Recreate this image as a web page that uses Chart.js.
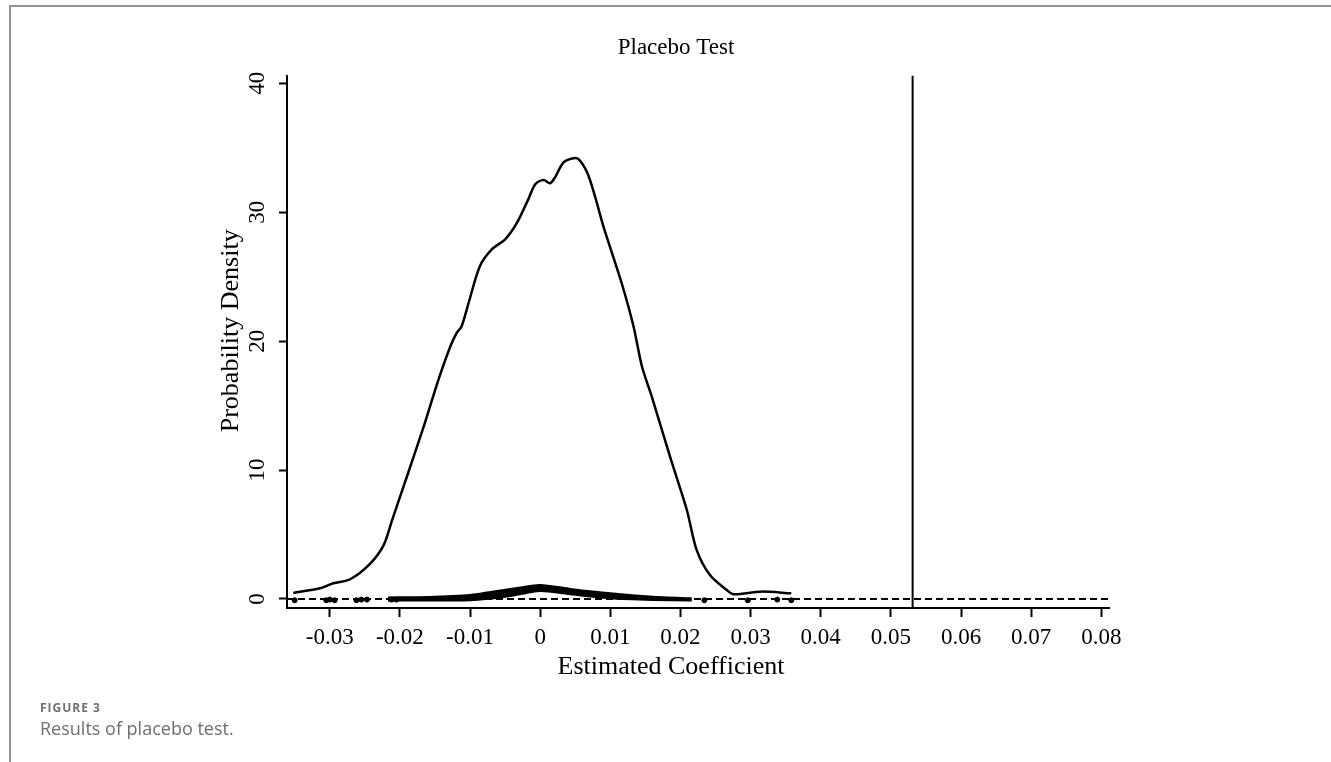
<!DOCTYPE html>
<html>
<head>
<meta charset="utf-8">
<script src="https://cdn.jsdelivr.net/npm/chart.js@4.4.0/dist/chart.umd.min.js"></script>
<style>
  html, body { margin: 0; padding: 0; background: #fff; overflow: hidden; }
  #frame { position: absolute; left: 9px; top: 5px; width: 1340px; height: 780px;
           border-left: 2px solid #949494; border-top: 2px solid #949494; }
  #wrap { position: absolute; left: 0; top: 0; width: 1331px; height: 762px; }
  .fig-label { position: absolute; left: 40px; top: 702px; font: 700 12px 'Open Sans', sans-serif;
               color: #6f6f6f; letter-spacing: 1px; line-height: 12px; }
  .fig-caption { position: absolute; left: 40px; top: 719px; font: 400 18px 'Open Sans', sans-serif;
                 color: #6f6f6f; line-height: 18px; }
</style>
</head>
<body>
<div id="frame"></div>
<div id="wrap"><canvas id="chart"></canvas></div>
<div class="fig-label">FIGURE 3</div>
<div class="fig-caption">Results of placebo test.</div>
<script>
// kernel density of the placebo estimates
const densityX = [-0.0352, -0.0314, -0.0295, -0.0271, -0.0242, -0.0223, -0.0211, -0.0190, -0.0166, -0.0145,
  -0.0128, -0.0119, -0.0112, -0.0102, -0.0086, -0.0069, -0.0050, -0.0033, -0.0017, -0.0007,
  0.0005, 0.0014, 0.0021, 0.0033, 0.0047, 0.0055, 0.0067, 0.0078, 0.0090, 0.0116,
  0.0133, 0.0145, 0.0159, 0.0185, 0.0209, 0.0223, 0.0242, 0.0266, 0.0276, 0.0314, 0.0358];
const densityY = [0.47, 0.83, 1.22, 1.53, 2.77, 4.2, 6.14, 9.5, 13.39, 17.02,
  19.6, 20.64, 21.16, 22.98, 25.82, 27.12, 27.89, 29.19, 31.0, 32.17,
  32.5, 32.25, 32.69, 33.85, 34.19, 34.11, 33.08, 31.26, 28.93, 24.53,
  21.16, 18.05, 15.72, 11.06, 6.92, 3.81, 1.86, 0.7, 0.37, 0.57, 0.44];

// dense cloud of estimate / p-value points near zero
const bandX     = [-0.0217, -0.0160, -0.0100, -0.0052, 0, 0.0043, 0.0100, 0.0161, 0.0216];
const bandUpper = [0.12, 0.15, 0.31, 0.70, 1.09, 0.78, 0.44, 0.18, 0.05];
const bandLower = [-0.12, -0.12, -0.10, 0.15, 0.62, 0.37, 0.05, -0.08, -0.12];

// isolated points
const outlierX = [-0.0350, -0.0305, -0.0300, -0.0293, -0.0262, -0.0255, -0.0247, -0.0212, -0.0205, 0.0234, 0.0296, 0.0338, 0.0358];
const outlierY = [-0.1, -0.1, -0.05, -0.1, -0.1, -0.05, -0.05, -0.05, -0.05, -0.1, -0.1, -0.05, -0.1];

const actualCoef = 0.0531;

const xTicks = [-0.03, -0.02, -0.01, 0, 0.01, 0.02, 0.03, 0.04, 0.05, 0.06, 0.07, 0.08];
const xTickLabels = ['-0.03', '-0.02', '-0.01', '0', '0.01', '0.02', '0.03', '0.04', '0.05', '0.06', '0.07', '0.08'];
const yTicks = [0, 10, 20, 30, 40];
const xRange = [-0.0361, 0.0811];
const yRange = [-0.7, 40.6];

const pts = (xs, ys) => xs.map((x, i) => ({x: x, y: ys[i]}));
const serif = "'Liberation Serif', 'Times New Roman', serif";

// axis titles, drawn like Stata places them (a little off the plot centre)
const axisTitles = {
    id: 'axisTitles',
    afterDraw(chart) {
        const {ctx, chartArea, scales} = chart;
        ctx.save();
        ctx.fillStyle = '#000';
        ctx.font = '26px ' + serif;
        ctx.textAlign = 'center';
        ctx.textBaseline = 'middle';
        ctx.fillText('Estimated Coefficient', (chartArea.left + chartArea.right) / 2 - 27, scales.x.bottom - 15);
        ctx.translate(scales.y.left + 210, (chartArea.top + chartArea.bottom) / 2 - 11);
        ctx.rotate(-Math.PI / 2);
        ctx.fillText('Probability Density', 0, 0);
        ctx.restore();
    }
};

new Chart(document.getElementById('chart'), {
    type: 'line',
    data: {
        datasets: [
            {
                label: 'Density',
                data: pts(densityX, densityY),
                borderColor: '#000',
                borderWidth: 2.5,
                pointRadius: 0,
                tension: 0.3
            },
            {
                label: 'Actual coefficient',
                data: [{x: actualCoef, y: yRange[0]}, {x: actualCoef, y: yRange[1]}],
                borderColor: '#000',
                borderWidth: 2,
                pointRadius: 0
            },
            {
                label: 'Zero',
                data: [{x: xRange[0], y: 0}, {x: xRange[1], y: 0}],
                borderColor: '#000',
                borderWidth: 2,
                borderDash: [7, 4],
                pointRadius: 0
            },
            {
                label: 'Band upper',
                data: pts(bandX, bandUpper),
                borderColor: '#000',
                backgroundColor: '#000',
                borderWidth: 2,
                fill: '+1',
                pointRadius: 0,
                tension: 0.2
            },
            {
                label: 'Band lower',
                data: pts(bandX, bandLower),
                borderColor: '#000',
                borderWidth: 2,
                pointRadius: 0,
                tension: 0.2
            },
            {
                type: 'scatter',
                label: 'Points',
                data: pts(outlierX, outlierY),
                backgroundColor: '#000',
                borderColor: '#000',
                pointRadius: 2.5
            }
        ]
    },
    options: {
        responsive: true,
        maintainAspectRatio: false,
        animation: false,
        layout: { padding: { left: 21, right: 0, top: 0, bottom: 80 } },
        plugins: {
            legend: { display: false },
            tooltip: { enabled: false },
            title: {
                display: true,
                text: 'Placebo Test',
                color: '#000',
                font: { family: serif, size: 23, weight: 'normal' },
                padding: { top: 34, bottom: 14 }
            }
        },
        scales: {
            x: {
                type: 'linear',
                min: xRange[0],
                max: xRange[1],
                afterBuildTicks: s => { s.ticks = xTicks.map(v => ({value: v})); },
                afterFit: s => { s.height = 74; },
                border: { display: true, color: '#000', width: 2 },
                grid: { display: true, drawOnChartArea: false, drawTicks: true, tickLength: 9, tickColor: '#000', tickWidth: 2 },
                ticks: {
                    color: '#000', font: { family: serif, size: 23 }, padding: 7,
                    minRotation: 0, maxRotation: 0, autoSkip: false,
                    callback: (v, i) => xTickLabels[i]
                }
            },
            y: {
                type: 'linear',
                min: yRange[0],
                max: yRange[1],
                afterBuildTicks: s => { s.ticks = yTicks.map(v => ({value: v})); },
                afterFit: s => { s.width = 266; },
                border: { display: true, color: '#000', width: 2 },
                grid: { display: true, drawOnChartArea: false, drawTicks: true, tickLength: 8, tickColor: '#000', tickWidth: 2 },
                ticks: {
                    color: '#000', font: { family: serif, size: 23 }, padding: 9.5,
                    minRotation: 90, maxRotation: 90, crossAlign: 'center',
                    callback: v => String(v)
                }
            },
            yR: {
                axis: 'y',
                type: 'linear',
                position: 'right',
                display: true,
                grid: { display: false },
                border: { display: false },
                ticks: { display: false },
                afterFit: s => { s.width = 222; }
            }
        }
    },
    plugins: [axisTitles]
});
</script>
</body>
</html>
